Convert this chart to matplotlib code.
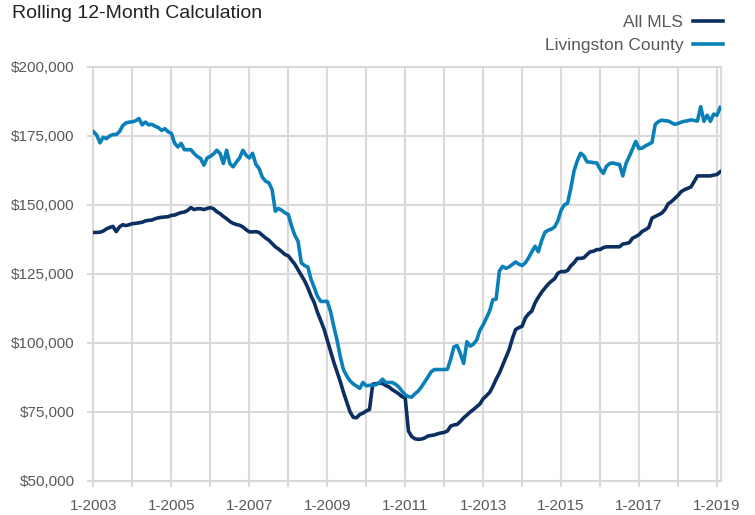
import numpy as np
import matplotlib
matplotlib.use("Agg")
import matplotlib.pyplot as plt
from matplotlib.ticker import FuncFormatter, MultipleLocator

plt.rcParams['font.family'] = ['Liberation Sans', 'DejaVu Sans']

# monthly values in $1000, Jan 2003 .. Feb 2019
all_mls = [
    140.0, 140.0, 140.1, 140.5, 141.3, 141.8, 142.2, 140.3, 142.0, 142.8, 142.5, 142.8,  # 2003
    143.2, 143.3, 143.5, 143.7, 144.2, 144.4, 144.5, 145.0, 145.3, 145.5, 145.6, 145.7,  # 2004
    146.2, 146.3, 146.8, 147.2, 147.4, 148.0, 149.0, 148.3, 148.6, 148.6, 148.3, 148.7,  # 2005
    149.0, 148.6, 147.5, 146.8, 145.8, 145.0, 144.0, 143.3, 142.9, 142.6, 142.0, 141.0,  # 2006
    140.2, 140.2, 140.3, 140.0, 139.0, 138.0, 137.2, 136.0, 134.8, 134.0, 133.0, 132.0,  # 2007
    131.5, 130.0, 128.5, 126.5, 124.5, 122.5, 120.0, 117.0, 114.5, 111.0, 108.0, 105.0,  # 2008
    101.0, 97.0, 93.0, 89.5, 86.0, 82.0, 78.5, 75.0, 73.0, 72.8, 74.0, 74.5,             # 2009
    75.3, 75.8, 85.0, 85.2, 85.3, 85.3, 84.5, 84.0, 83.0, 82.3, 81.5, 80.5,              # 2010
    80.0, 68.0, 66.0, 65.2, 65.0, 65.1, 65.5, 66.2, 66.4, 66.6, 67.0, 67.3,              # 2011
    67.5, 68.0, 69.8, 70.2, 70.4, 71.5, 72.8, 73.8, 74.9, 75.8, 76.8, 77.8,              # 2012
    79.7, 80.8, 82.0, 84.2, 86.8, 89.0, 91.8, 94.5, 97.5, 101.5, 104.8, 105.5,           # 2013
    106.0, 109.0, 110.5, 111.5, 114.5, 116.5, 118.3, 119.8, 121.2, 122.3, 123.2, 125.2,  # 2014
    125.8, 125.8, 126.2, 127.9, 129.0, 130.6, 130.6, 130.8, 132.0, 133.0, 133.2, 133.8,  # 2015
    133.8, 134.5, 134.8, 134.8, 134.8, 134.8, 134.8, 135.8, 136.0, 136.3, 137.9, 138.5,  # 2016
    139.2, 140.4, 141.0, 141.8, 145.2, 145.8, 146.4, 147.0, 148.3, 150.4, 151.2, 152.3,  # 2017
    153.4, 154.8, 155.5, 156.0, 156.5, 158.5, 160.5, 160.5, 160.5, 160.5, 160.5, 160.8,  # 2018
    161.0, 162.0,                                                                        # 2019
]

livingston = [
    176.5, 175.3, 172.5, 174.5, 174.0, 175.0, 175.5, 175.5, 176.5, 178.7, 179.7, 180.0,  # 2003
    180.1, 180.5, 181.3, 179.0, 180.0, 179.0, 179.2, 178.5, 178.0, 177.0, 177.6, 176.5,  # 2004
    175.9, 172.3, 171.0, 172.3, 170.0, 170.0, 170.0, 168.6, 167.5, 166.8, 164.4, 167.0,  # 2005
    167.6, 168.5, 169.8, 168.6, 165.0, 169.8, 165.0, 163.8, 165.5, 167.0, 169.8, 168.0,  # 2006
    167.0, 168.7, 164.7, 163.2, 160.0, 158.6, 158.0, 155.6, 147.7, 148.7, 148.0, 147.1,  # 2007
    146.5, 142.3, 139.0, 136.8, 129.0, 128.0, 127.5, 123.0, 120.0, 116.8, 115.0, 115.0,  # 2008
    115.0, 111.4, 106.0, 101.0, 95.0, 90.2, 88.0, 86.2, 85.1, 84.3, 83.5, 85.6,          # 2009
    84.4, 84.6, 84.6, 84.8, 85.5, 86.8, 85.6, 85.6, 85.6, 85.0, 84.0, 82.5,              # 2010
    81.1, 80.5, 80.3, 81.5, 82.5, 84.0, 85.8, 87.6, 89.5, 90.3, 90.3, 90.3,              # 2011
    90.3, 90.4, 94.0, 98.5, 99.0, 96.0, 92.5, 100.4, 98.8, 99.5, 101.0, 104.5,           # 2012
    106.5, 109.0, 111.5, 115.6, 115.8, 126.0, 127.7, 127.0, 127.5, 128.4, 129.3, 128.5,  # 2013
    128.0, 129.0, 130.8, 133.0, 135.0, 133.0, 137.0, 140.0, 140.8, 141.2, 142.0, 144.2,  # 2014
    148.0, 150.0, 150.6, 156.0, 162.3, 166.0, 168.7, 167.8, 165.6, 165.5, 165.3, 165.2,  # 2015
    163.0, 161.4, 164.0, 165.0, 165.2, 164.8, 164.7, 160.5, 165.0, 167.5, 170.3, 173.0,  # 2016
    170.4, 170.6, 171.4, 172.0, 172.6, 179.2, 180.2, 180.7, 180.5, 180.4, 179.8, 179.2,  # 2017
    179.5, 180.0, 180.3, 180.5, 180.8, 180.6, 180.4, 185.6, 180.3, 182.5, 180.3, 182.9,  # 2018
    182.5, 185.3,                                                                        # 2019
]

start_year = 2003
label_years = list(range(2003, 2020, 2))

months = np.arange(len(all_mls))
t = start_year + months / 12.0
mls = np.array(all_mls) * 1000
liv = np.array(livingston) * 1000

navy = '#0b2f61'
blue = '#0a80b8'
grid_c = '#d9d9d9'
txt_c = '#595959'

fig = plt.figure(figsize=(7.55, 5.15), dpi=100)
ax = fig.add_axes([0.1238, 0.0666, 0.955 - 0.1238, 0.870 - 0.0666])

ax.plot(t, mls, color=navy, lw=2.6, label='All MLS', solid_joinstyle='round', zorder=3)
ax.plot(t, liv, color=blue, lw=2.6, label='Livingston County', solid_joinstyle='round', zorder=3)

ax.set_xlim(2003, 2019.105)
ax.set_ylim(50000, 200000)
ax.yaxis.set_major_locator(MultipleLocator(25000))
ax.yaxis.set_major_formatter(FuncFormatter(lambda v, p: '${:,.0f}'.format(v)))
ax.set_xticks(range(2003, 2020))
ax.set_xticklabels(['1-%d' % y if y in label_years else '' for y in range(2003, 2020)])

ax.grid(True, color=grid_c, lw=1.5)
ax.set_axisbelow(True)
for s in ax.spines.values():
    s.set_color(grid_c)
    s.set_linewidth(1.5)
ax.tick_params(axis='both', colors=grid_c, width=1.5, length=4.5, labelcolor=txt_c, labelsize=11)
ax.tick_params(axis='y', pad=9)
ax.tick_params(axis='x', pad=8.5)

fig.text(0.016, 0.965, 'Rolling 12-Month Calculation', fontsize=14, color='#222222', va='baseline')

leg = ax.legend(loc='lower right', bbox_to_anchor=(0.958, 0.897), bbox_transform=fig.transFigure,
                frameon=False, markerfirst=False, alignment='right', fontsize=12.5,
                handlelength=1.75, handletextpad=0.55, labelspacing=0.45, borderpad=0, borderaxespad=0)
for txt in leg.get_texts():
    txt.set_color(txt_c)

fig.savefig('out.png', dpi=100)
